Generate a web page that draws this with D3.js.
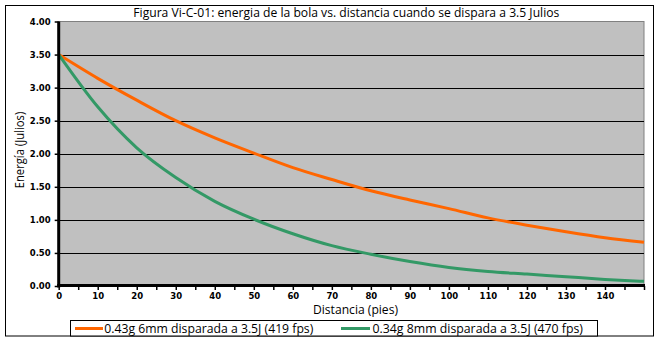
<!DOCTYPE html>
<html>
<head>
<meta charset="utf-8">
<script src="https://cdn.jsdelivr.net/npm/d3@7"></script>
<style>
  html, body { margin: 0; padding: 0; background: #fff; }
  svg { display: block; }
</style>
</head>
<body>
<svg id="chart" width="659" height="341"></svg>
<script>
// ---- data ----
const titleText = "Figura Vi-C-01: energia de la bola vs. distancia cuando se dispara a 3.5 Julios";
const xLabel = "Distancia (pies)";
const yLabel = "Energía (Julios)";
const distances = [0, 10, 20, 30, 40, 50, 60, 70, 80, 90, 100, 110, 120, 130, 140, 150];
const energy6mm = [3.50, 3.14, 2.81, 2.50, 2.24, 2.01, 1.79, 1.61, 1.44, 1.30, 1.17, 1.03, 0.92, 0.82, 0.73, 0.66];
const energy8mm = [3.50, 2.71, 2.09, 1.64, 1.28, 1.01, 0.79, 0.61, 0.48, 0.37, 0.28, 0.22, 0.18, 0.14, 0.10, 0.07];
const seriesNames = ["0.43g 6mm disparada a 3.5J (419 fps)", "0.34g 8mm disparada a 3.5J (470 fps)"];
const seriesColors = ["#FF6600", "#339966"];
const yTicks = [0, 0.5, 1, 1.5, 2, 2.5, 3, 3.5, 4];
const xLabelTicks = [0, 10, 20, 30, 40, 50, 60, 70, 80, 90, 100, 110, 120, 130, 140];
const xMinorTicks = d3.range(0, 151, 5);

// ---- layout ----
const svg = d3.select("#chart");
const plot = { left: 58.7, right: 644, top: 21.5, bottom: 286 };
const x = d3.scaleLinear().domain([0, 150]).range([plot.left, plot.right]);
const y = d3.scaleLinear().domain([0, 4]).range([plot.bottom, plot.top]);

// outer frame
svg.append("rect").attr("x", 5.5).attr("y", 5.5).attr("width", 648).attr("height", 330.5)
  .attr("fill", "#fff").attr("stroke", "#000").attr("stroke-width", 1);

// plot background
svg.append("rect").attr("x", plot.left).attr("y", plot.top)
  .attr("width", plot.right - plot.left).attr("height", plot.bottom - plot.top)
  .attr("fill", "#C0C0C0").attr("stroke", "#808080").attr("stroke-width", 1);

// gridlines
svg.append("g").selectAll("line").data(yTicks.filter(d => d > 0 && d < 4)).join("line")
  .attr("x1", plot.left).attr("x2", plot.right)
  .attr("y1", d => Math.round(y(d)) + 0.5).attr("y2", d => Math.round(y(d)) + 0.5)
  .attr("stroke", "#000").attr("stroke-width", 1);

// y axis
const yAxis = d3.axisLeft(y).tickValues(yTicks).tickFormat(d3.format(".2f")).tickSize(4).tickPadding(4);
const gy = svg.append("g").attr("transform", `translate(${plot.left},0)`).call(yAxis);
gy.select(".domain").remove();
gy.selectAll(".tick line").attr("stroke", "#000").attr("stroke-width", 1.5);
gy.selectAll(".tick text").attr("font-family", "DejaVu Sans").attr("font-weight", "bold")
  .attr("font-size", "8.5px").attr("fill", "#000");

// x axis minor ticks + labels
const xAxis = d3.axisBottom(x).tickValues(xMinorTicks).tickSize(4).tickPadding(3)
  .tickFormat(d => xLabelTicks.includes(d) ? d : "");
const gx = svg.append("g").attr("transform", `translate(0,${plot.bottom})`).call(xAxis);
gx.select(".domain").remove();
gx.selectAll(".tick line").attr("stroke", "#000").attr("stroke-width", 1.5);
gx.selectAll(".tick text").attr("font-family", "DejaVu Sans").attr("font-weight", "bold")
  .attr("font-size", "8.5px").attr("fill", "#000");

// series lines
const line = d3.line().x((d, i) => x(distances[i])).y(d => y(d)).curve(d3.curveMonotoneX);
[energy6mm, energy8mm].forEach((s, i) => {
  svg.append("path").datum(s).attr("d", line).attr("fill", "none")
    .attr("stroke", seriesColors[i]).attr("stroke-width", 3).attr("stroke-linejoin", "round");
});

// axis lines (thick)
svg.append("line").attr("x1", plot.left).attr("x2", plot.left).attr("y1", plot.top).attr("y2", plot.bottom + 1.5)
  .attr("stroke", "#000").attr("stroke-width", 3);
svg.append("line").attr("x1", plot.left - 1.5).attr("x2", plot.right + 1).attr("y1", plot.bottom - 0.5).attr("y2", plot.bottom - 0.5)
  .attr("stroke", "#000").attr("stroke-width", 3);

// title
svg.append("text").attr("x", 133.3).attr("y", 16.5).text(titleText)
  .attr("font-family", "Open Sans").attr("font-size", "12.5px").attr("fill", "#000")
  .attr("textLength", 426).attr("lengthAdjust", "spacingAndGlyphs");

// axis titles
svg.append("text").attr("x", 313).attr("y", 314).text(xLabel)
  .attr("font-family", "Open Sans").attr("font-size", "12px").attr("fill", "#000")
  .attr("textLength", 85).attr("lengthAdjust", "spacingAndGlyphs");
svg.append("text").attr("transform", "translate(24,188.3) rotate(-90)").text(yLabel)
  .attr("font-family", "Open Sans").attr("font-size", "12px").attr("fill", "#000")
  .attr("textLength", 76.5).attr("lengthAdjust", "spacingAndGlyphs");

// legend
svg.append("rect").attr("x", 70.5).attr("y", 320.5).attr("width", 527).attr("height", 15.5)
  .attr("fill", "#fff").attr("stroke", "#000").attr("stroke-width", 1);
const legendItems = [
  { lx1: 75, lx2: 103, tx: 104.3, tw: 209 },
  { lx1: 341, lx2: 370, tx: 372.5, tw: 210.5 }
];
legendItems.forEach((it, i) => {
  svg.append("line").attr("x1", it.lx1).attr("x2", it.lx2).attr("y1", 328.5).attr("y2", 328.5)
    .attr("stroke", seriesColors[i]).attr("stroke-width", 3);
  svg.append("text").attr("x", it.tx).attr("y", 333).text(seriesNames[i])
    .attr("font-family", "Open Sans").attr("font-size", "12px").attr("fill", "#000")
    .attr("textLength", it.tw).attr("lengthAdjust", "spacingAndGlyphs");
});
</script>
</body>
</html>
